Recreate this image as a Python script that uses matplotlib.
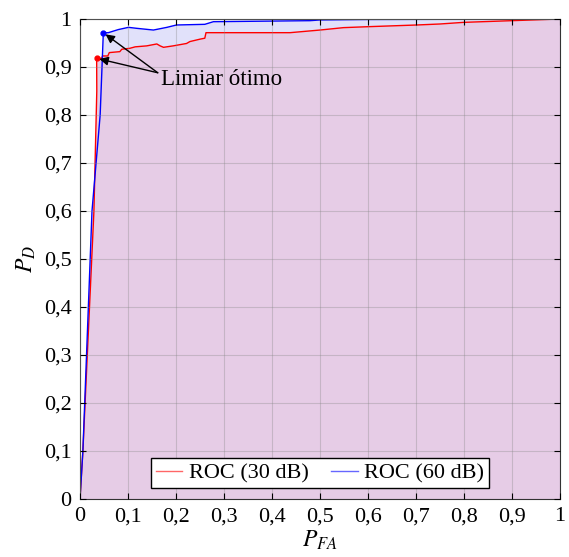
import matplotlib.pyplot as plt
import numpy as np

plt.rcParams['font.family'] = ['Liberation Serif', 'DejaVu Serif']
plt.rcParams['mathtext.fontset'] = 'stix'

# ROC 30 dB (PFA, PD)
pfa_30 = [0, 0.006, 0.029, 0.035, 0.0347, 0.045, 0.047, 0.058, 0.061, 0.083, 0.087, 0.104,
          0.115, 0.139, 0.160, 0.167, 0.174, 0.194, 0.222, 0.229, 0.250, 0.260, 0.2625,
          0.4375, 0.500, 0.549, 0.601, 0.701, 0.750, 0.799, 0.899, 1.0]
pd_30 = [0, 0.10, 0.60, 0.85, 0.918, 0.918, 0.923, 0.923, 0.930, 0.932, 0.937, 0.939,
         0.942, 0.944, 0.948, 0.944, 0.941, 0.944, 0.949, 0.953, 0.958, 0.960, 0.9715,
         0.9715, 0.977, 0.982, 0.984, 0.9875, 0.9896, 0.993, 0.9965, 1.0]

# ROC 60 dB
pfa_60 = [0, 0.006, 0.025, 0.042, 0.0486, 0.059, 0.080, 0.101, 0.118, 0.153, 0.181, 0.201,
          0.260, 0.278, 0.479, 0.50, 0.60, 1.0]
pd_60 = [0, 0.10, 0.60, 0.80, 0.9715, 0.9715, 0.978, 0.9826, 0.9806, 0.977, 0.9826, 0.9875,
         0.9889, 0.9944, 0.9965, 0.998, 0.999, 1.0]

# optimal thresholds
opt_30 = (0.0347, 0.918)
opt_60 = (0.0486, 0.9715)

ticks = np.round(np.arange(0, 1.01, 0.1), 1)
tick_labels = ['0' if t == 0 else ('1' if t == 1 else f'{t:.1f}'.replace('.', ',')) for t in ticks]

fig = plt.figure(figsize=(5.69, 5.57), dpi=100)
ax = fig.add_axes([80 / 569, 1 - 499 / 557, 480 / 569, 480 / 557])

ax.fill_between(pfa_60, pd_60, 0, color='#e1e1fa', lw=0)
ax.fill_between(pfa_30, pd_30, 0, color='#e6cce6', lw=0)
ax.plot(pfa_30, pd_30, color='red', lw=1, label='ROC (30 dB)')
ax.plot(pfa_60, pd_60, color='blue', lw=1, label='ROC (60 dB)')
ax.plot(*opt_30, 'o', color='red', ms=3.5)
ax.plot(*opt_60, 'o', color='blue', ms=3.5)

arrow = dict(arrowstyle='-|>', color='black', lw=1, mutation_scale=13, shrinkA=0, shrinkB=2)
start = (0.162, 0.888)
ax.annotate('', xy=opt_60, xytext=start, arrowprops=arrow)
ax.annotate('', xy=opt_30, xytext=start, arrowprops=arrow)
ax.text(0.168, 0.873, 'Limiar ótimo', fontsize=16.5, ha='left', va='center')

ax.set_xlim(0, 1)
ax.set_ylim(0, 1)
ax.set_xticks(ticks)
ax.set_yticks(ticks)
ax.set_xticklabels(tick_labels, fontsize=16)
ax.set_yticklabels(tick_labels, fontsize=16)
ax.tick_params(direction='in', top=True, right=True, length=4, width=0.8)
ax.tick_params(axis='x', pad=6)
ax.tick_params(axis='y', pad=6)
ax.grid(True, color='#888888', alpha=0.35, lw=0.8)
ax.set_axisbelow(False)
for s in ax.spines.values():
    s.set_color('#333333')

ax.set_xlabel('$P_{FA}$', fontsize=17, labelpad=2)
ax.set_ylabel('$P_D$', fontsize=17, labelpad=4)

leg = ax.legend(loc='lower center', ncol=2, fontsize=16, frameon=True, fancybox=False,
                edgecolor='black', framealpha=1, handlelength=1.2, handletextpad=0.3,
                columnspacing=1.0, borderpad=0.2, borderaxespad=0.5)
leg.get_frame().set_linewidth(1.0)
for h in leg.get_lines():
    h.set_alpha(0.6)

fig.savefig('out.png', dpi=100)
